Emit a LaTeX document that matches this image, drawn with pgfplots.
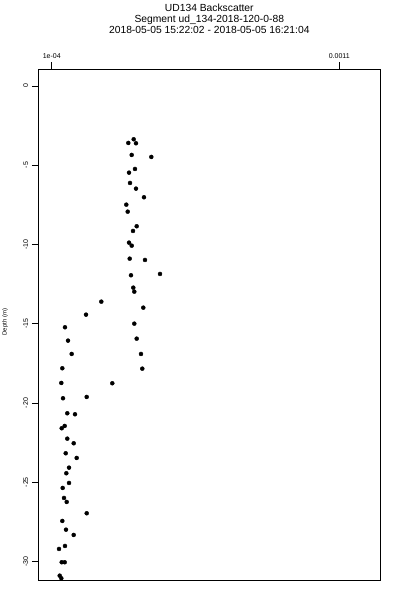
\documentclass[border=0pt]{standalone}
\usepackage{fontspec}
\setmainfont{Liberation Sans}
\usepackage{pgfplots}
\usepackage{pgfplotstable}
\pgfplotsset{compat=1.18}
% backscatter in units of 1e-4, depth in m
\pgfplotstableread{
x y
3.851 -3.363
3.663 -3.596
3.931 -3.615
3.782 -4.353
4.463 -4.479
3.896 -5.237
3.688 -5.470
3.723 -6.120
3.931 -6.479
4.209 -7.022
3.594 -7.489
3.643 -7.931
3.955 -8.852
3.827 -9.148
3.688 -9.886
3.782 -10.076
3.712 -10.896
4.244 -10.978
3.757 -11.943
4.766 -11.861
3.837 -12.726
3.872 -12.978
2.725 -13.609
4.185 -13.987
2.193 -14.429
1.462 -15.224
3.872 -14.997
1.567 -16.069
3.955 -15.943
1.695 -16.909
4.105 -16.909
1.369 -17.811
4.150 -17.836
1.334 -18.738
3.107 -18.757
1.393 -19.703
2.217 -19.621
1.542 -20.650
1.810 -20.713
1.452 -21.451
1.348 -21.596
1.542 -22.252
1.765 -22.543
1.487 -23.174
1.869 -23.470
1.602 -24.082
1.508 -24.435
1.602 -25.047
1.382 -25.363
1.428 -25.994
1.522 -26.246
2.217 -26.959
1.369 -27.445
1.497 -27.994
1.765 -28.328
1.462 -29.022
1.254 -29.211
1.348 -30.050
1.452 -30.050
1.278 -30.896
1.334 -31.060
}\datatable
\begin{document}
\begin{tikzpicture}[x=1pt,y=1pt]
\useasboundingbox (0,0) rectangle (400,600);
\begin{axis}[
  at={(38.3pt,20pt)}, anchor=south west,
  width=342pt, height=511pt, scale only axis,
  xmin=0.534, xmax=12.426, ymin=-31.17, ymax=1.07,
  xtick={1,11}, xticklabels={1e-04,0.0011},
  xtick pos=right, xticklabel pos=right,
  ytick={0,-5,-10,-15,-20,-25,-30},
  ytick pos=left,
  tick align=outside, major tick length=6.5pt,
  axis line style={line width=0.8pt},
  tick style={line width=0.8pt, black},
  /pgf/number format/assume math mode=true,
  xticklabel style={font=\fontsize{7}{8}\selectfont},
  yticklabel style={font=\fontsize{7}{8}\selectfont, rotate=90, anchor=south},
  scaled x ticks=false,
  clip=false,
]
\addplot[only marks, mark=*, mark size=2pt, black] table[x=x,y=y] {\datatable};
\end{axis}
\node[anchor=base, font=\fontsize{10.3}{11}\selectfont] at (209.3,588.3) {UD134 Backscatter};
\node[anchor=base, font=\fontsize{10.3}{11}\selectfont] at (209.3,577.7) {Segment ud\_134-2018-120-0-88};
\node[anchor=base, font=\fontsize{10.3}{11}\selectfont] at (209.3,566.7) {2018-05-05 15:22:02 - 2018-05-05 16:21:04};
\node[rotate=90, font=\fontsize{6}{7}\selectfont] at (5,278) {Depth (m)};
\end{tikzpicture}
\end{document}
